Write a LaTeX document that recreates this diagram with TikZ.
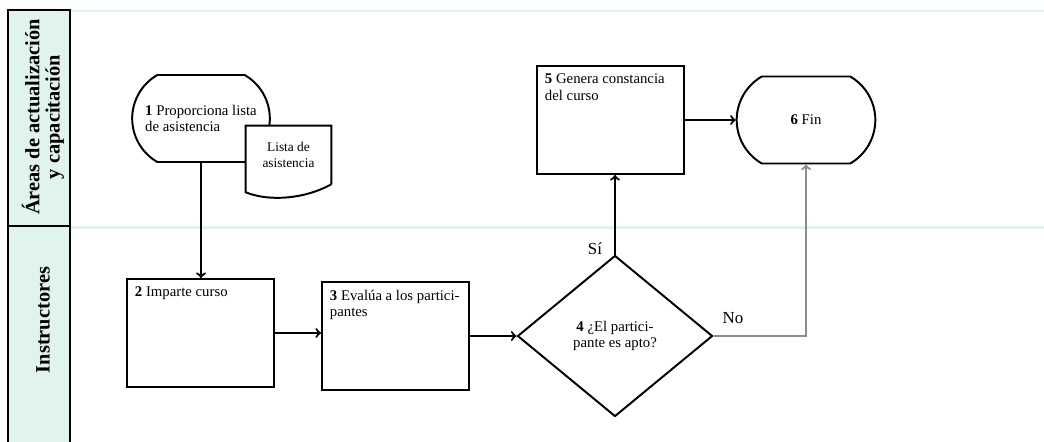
\documentclass[tikz,border=0pt]{standalone}
\usepackage{fontspec}
\setmainfont{Liberation Serif}
\usepackage{tikz}
\usetikzlibrary{arrows,shapes,positioning}
\usepackage{xcolor}
\definecolor{lanemint}{RGB}{224,243,237}
\definecolor{nogray}{RGB}{140,140,140}
\newcommand{\txtbody}{\fontsize{10.5}{11.6}\selectfont}
\newcommand{\boxtext}[1]{\parbox[t][2.3cm][t]{3.275cm}{\raggedright #1}}
\tikzstyle{process} = [rectangle, draw, line width=1.4pt, inner sep=0.2cm, font=\txtbody, fill=white]
\tikzstyle{terminal} = [rounded rectangle, rounded rectangle arc length=120, draw, line width=1.4pt, minimum width=3.675cm, minimum height=2.175cm, font=\txtbody, align=left]
\tikzstyle{decision} = [diamond, draw, line width=1.4pt, minimum width=4.875cm, minimum height=4.025cm, font=\fontsize{10.5}{12}\selectfont, align=center, inner sep=0pt]
\tikzstyle{docnode} = [rectangle, fill=white, minimum width=2.125cm, minimum height=1.45cm, font=\fontsize{9.5}{11.4}\selectfont, align=center, inner sep=0pt]
\tikzstyle{lanebox} = [draw, line width=1.2pt, fill=lanemint]
\tikzstyle{lanetitle} = [rotate=90, font=\fontsize{14.5}{14.5}\selectfont\bfseries, align=center]
\tikzstyle{answer} = [font=\fontsize{12}{14}\selectfont]
\tikzstyle{arrow} = [line width=1.5pt,->,>=to]

\begin{document}
\begin{tikzpicture}[x=0.025cm, y=-0.025cm]
\useasboundingbox (0,0) rectangle (1044,441);

% lanes
\draw[lanemint, line width=2pt] (70,11) -- (1044,11);
\draw[lanemint, line width=2pt] (70,227.5) -- (1044,227.5);
\draw[lanebox] (8,10) rectangle (70,226);
\draw[lanebox] (8,226) rectangle (70,460);
\node (lane1) [lanetitle] at (43,117) {Áreas de actualización\\y capacitación};
\node (lane2) [lanetitle] at (43,320) {Instructores};

% steps
\node (step1) [terminal] at (201,118.5) {\textbf{1} Proporciona lista\\de asistencia};
\node (lista) [docnode] at (288.5,155) {Lista de\\asistencia};
\draw[line width=1.4pt] (lista.south east) -- (lista.north east) -- (lista.north west) -- ([yshift=-0.2cm]lista.south west)
  .. controls +(25,10) and +(-25,14) .. (lista.south east);

\node (step2) [process] at (200.5,333) {\boxtext{\textbf{2} Imparte curso}};
\node (step3) [process] at (395.5,336) {\boxtext{\textbf{3} Evalúa a los partici-\\pantes}};
\node (step4) [decision] at (615,336) {\textbf{4} ¿El partici-\\pante es apto?};
\node (step5) [process] at (610.5,120) {\boxtext{\textbf{5} Genera constancia\\del curso}};
\node (step6) [terminal, minimum width=3.7cm] at (806,120) {\textbf{6} Fin};

\node (si) [answer] at (595,249) {Sí};
\node (no) [answer] at (733,318) {No};

% connectors
\draw[arrow] (step1.south) -- (step1.south |- step2.north);
\draw[arrow] (step2.east) -- (step2.east -| step3.west);
\draw[arrow] (step3.east) -- (step4.west);
\draw[arrow] (step4.north) -- (step4.north |- step5.south);
\draw[arrow] (step5.east) -- (step5.east -| step6.west);
\draw[arrow, nogray] (step4.east) -| (step6.south);
\end{tikzpicture}
\end{document}
